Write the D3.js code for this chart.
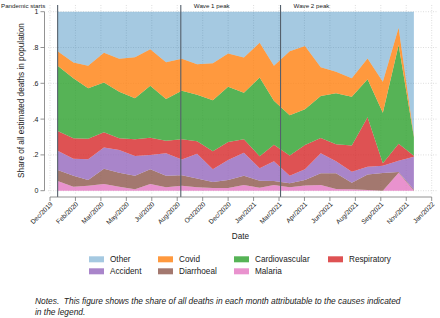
<!DOCTYPE html>
<html>
<head>
<meta charset="utf-8">
<script src="https://cdn.jsdelivr.net/npm/d3@7"></script>
<style>
body { margin: 0; background: #fff; }
svg { display: block; font-family: "Liberation Sans", Arial, Helvetica, sans-serif; }
</style>
</head>
<body>
<svg id="chart" width="440" height="318"></svg>
<script>
// Meses (un punto por mes)
const meses = [
    "2020-01-01", "2020-02-01", "2020-03-01", "2020-04-01", "2020-05-01", "2020-06-01",
    "2020-07-01", "2020-08-01", "2020-09-01", "2020-10-01", "2020-11-01", "2020-12-01",
    "2021-01-01", "2021-02-01", "2021-03-01", "2021-04-01", "2021-05-01", "2021-06-01",
    "2021-07-01", "2021-08-01", "2021-09-01", "2021-10-01", "2021-11-01", "2021-12-01"
];

// Proporción de muertes por causa (de abajo a arriba)
const malaria = [.054, .022, .028, .037, .022, .008, .037, .019, .028, .019, .015, .015,
                 .032, .017, .032, .019, .029, .032, .010, .008, .004, .000, .100, .000];
const diarrhoeal = [.062, .061, .032, .086, .078, .076, .083, .065, .058, .049, .034, .045,
                    .052, .039, .022, .022, .031, .065, .087, .037, .086, .099, .005, .005];
const accident = [.107, .096, .116, .119, .127, .110, .080, .125, .089, .138, .071, .112,
                  .128, .069, .110, .042, .060, .112, .068, .061, .044, .041, .063, .185];
const respiratory = [.111, .114, .114, .084, .066, .093, .096, .070, .112, .070, .101, .100,
                     .076, .067, .093, .113, .135, .086, .094, .147, .277, .013, .094, .005];
const cardiovascular = [.364, .335, .282, .279, .260, .229, .291, .233, .272, .260, .284, .309,
                        .259, .440, .245, .225, .200, .234, .286, .272, .211, .283, .552, .105];
const covid = [.081, .088, .126, .166, .184, .229, .203, .205, .178, .170, .207, .185,
               .197, .195, .196, .358, .353, .161, .119, .103, .116, .173, .097, .005];
const other = [.221, .284, .302, .229, .263, .255, .210, .283, .263, .294, .288, .234,
               .256, .173, .302, .221, .192, .310, .336, .372, .262, .391, .089, .695];

// Ticks del eje X (cada 50 días, como en Stata) y del eje Y
const fechasTicks = [
    "2019-12-17", "2020-02-05", "2020-03-26", "2020-05-15", "2020-07-04", "2020-08-23",
    "2020-10-12", "2020-12-01", "2021-01-20", "2021-03-11", "2021-04-30", "2021-06-19",
    "2021-08-08", "2021-09-27", "2021-11-16", "2022-01-05"
];
const ticksY = [0, .2, .4, .6, .8, 1];
const etiquetasY = ["0", ".2", ".4", ".6", ".8", "1"];

// Eventos marcados con línea vertical
const eventosFechas = ["2020-01-01", "2020-08-30", "2021-03-14"];
const eventosTextos = ["Pandemic starts", "Wave 1 peak", "Wave 2 peak"];

// Orden de apilado y orden de la leyenda
const causas = ["Malaria", "Diarrhoeal", "Accident", "Respiratory", "Cardiovascular", "Covid", "Other"];
const ordenLeyenda = ["Other", "Covid", "Cardiovascular", "Respiratory", "Accident", "Diarrhoeal", "Malaria"];

const colores = {
    Other: "#1f77b4", Covid: "#ff7f0e", Cardiovascular: "#2ca02c", Respiratory: "#d62728",
    Accident: "#9467bd", Diarrhoeal: "#8c564b", Malaria: "#e377c2"
};
const opacidad = c => c === "Other" ? 0.4 : 0.8;

const parse = d3.utcParse("%Y-%m-%d");
const formato = d3.utcFormat("%b/%Y");

const series = { Malaria: malaria, Diarrhoeal: diarrhoeal, Accident: accident, Respiratory: respiratory,
                 Cardiovascular: cardiovascular, Covid: covid, Other: other };
const tabla = meses.map((m, i) => {
    const fila = { fecha: parse(m) };
    causas.forEach(c => fila[c] = series[c][i]);
    return fila;
});

const svg = d3.select("#chart");

// Escalas
const x = d3.scaleUtc()
    .domain([parse(fechasTicks[0]), parse(fechasTicks[fechasTicks.length - 1])])
    .range([50, 431.7]);
const y = d3.scaleLinear().domain([0, 1]).range([190.7, 11.7]);

const plot = { left: 48, right: 437, top: 5, bottom: 194 };

// Grid punteado
svg.append("g").selectAll("line").data(ticksY).join("line")
    .attr("x1", plot.left).attr("x2", plot.right)
    .attr("y1", d => y(d)).attr("y2", d => y(d))
    .attr("stroke", "#c8c8c8").attr("stroke-width", 0.6).attr("stroke-dasharray", "1,1.5");
svg.append("g").selectAll("line").data(fechasTicks).join("line")
    .attr("x1", d => x(parse(d))).attr("x2", d => x(parse(d)))
    .attr("y1", plot.top).attr("y2", plot.bottom)
    .attr("stroke", "#c8c8c8").attr("stroke-width", 0.6).attr("stroke-dasharray", "1,1.5");

// Áreas apiladas
const stack = d3.stack().keys(causas);
const capas = stack(tabla);
const area = d3.area()
    .x(d => x(d.data.fecha))
    .y0(d => y(d[0]))
    .y1(d => y(d[1]));

svg.append("g").selectAll("path").data(capas).join("path")
    .attr("d", area)
    .attr("fill", d => colores[d.key])
    .attr("fill-opacity", d => opacidad(d.key));

// Líneas de eventos
eventosFechas.forEach((f, i) => {
    const xe = x(parse(f));
    svg.append("line")
        .attr("x1", xe).attr("x2", xe)
        .attr("y1", 5).attr("y2", 197)
        .attr("stroke", "#55606c").attr("stroke-width", 1.1);
    svg.append("text")
        .attr("x", i === 0 ? 1 : xe + 13)
        .attr("y", 8)
        .attr("text-anchor", "start")
        .style("font-size", "6.2px")
        .attr("fill", "#222")
        .text(eventosTextos[i]);
});

// Eje Y
const ejeY = svg.append("g");
ejeY.append("line")
    .attr("x1", 44.5).attr("x2", 44.5)
    .attr("y1", y(0)).attr("y2", y(1))
    .attr("stroke", "#777").attr("stroke-width", 0.8);
ejeY.selectAll(".tick").data(ticksY).join("line")
    .attr("x1", 40.5).attr("x2", 44.5)
    .attr("y1", d => y(d)).attr("y2", d => y(d))
    .attr("stroke", "#777").attr("stroke-width", 0.8);
ejeY.selectAll("text").data(ticksY).join("text")
    .attr("x", 38.5).attr("y", d => y(d)).attr("dy", "0.35em")
    .attr("text-anchor", "end")
    .style("font-size", "7px")
    .attr("fill", "#222")
    .text((d, i) => etiquetasY[i]);

svg.append("text")
    .attr("transform", "translate(24,100.5) rotate(-90)")
    .attr("text-anchor", "middle")
    .style("font-size", "8.2px")
    .attr("fill", "#222")
    .text("Share of all estimated deaths in population");

// Eje X
const ejeX = svg.append("g");
ejeX.append("line")
    .attr("x1", x(parse(fechasTicks[0]))).attr("x2", x(parse(fechasTicks[fechasTicks.length - 1])))
    .attr("y1", 197).attr("y2", 197)
    .attr("stroke", "#777").attr("stroke-width", 0.8);
ejeX.selectAll(".tick").data(fechasTicks).join("line")
    .attr("x1", d => x(parse(d))).attr("x2", d => x(parse(d)))
    .attr("y1", 197).attr("y2", 201)
    .attr("stroke", "#777").attr("stroke-width", 0.8);
ejeX.selectAll("text").data(fechasTicks).join("text")
    .attr("transform", d => `translate(${x(parse(d)) + 1.5},${203}) rotate(-45)`)
    .attr("text-anchor", "end")
    .attr("dy", "0.35em")
    .style("font-size", "6.6px")
    .attr("fill", "#222")
    .text(d => formato(parse(d)));

svg.append("text")
    .attr("x", 240.5).attr("y", 238.5)
    .attr("text-anchor", "middle")
    .style("font-size", "8.2px")
    .attr("fill", "#222")
    .text("Date");

// Leyenda
const colX = [89, 158, 234, 328];
const filaY = [259.3, 271.3];
const leyenda = svg.append("g");
ordenLeyenda.forEach((c, i) => {
    const lx = colX[i % 4], ly = filaY[Math.floor(i / 4)];
    leyenda.append("rect")
        .attr("x", lx).attr("y", ly - 3)
        .attr("width", 15).attr("height", 6)
        .attr("fill", colores[c]).attr("fill-opacity", opacidad(c));
    leyenda.append("text")
        .attr("x", lx + 21).attr("y", ly).attr("dy", "0.35em")
        .style("font-size", "8.2px")
        .attr("fill", "#222")
        .text(c);
});

// Nota al pie
const nota = ["Notes.  This figure shows the share of all deaths in each month attributable to the causes indicated",
              "in the legend."];
nota.forEach((t, i) => {
    svg.append("text")
        .attr("x", 35).attr("y", 303.5 + i * 11.7)
        .style("font-size", "8.4px")
        .style("font-style", "italic")
        .attr("fill", "#222")
        .style("white-space", "pre")
        .text(t);
});
</script>
</body>
</html>
